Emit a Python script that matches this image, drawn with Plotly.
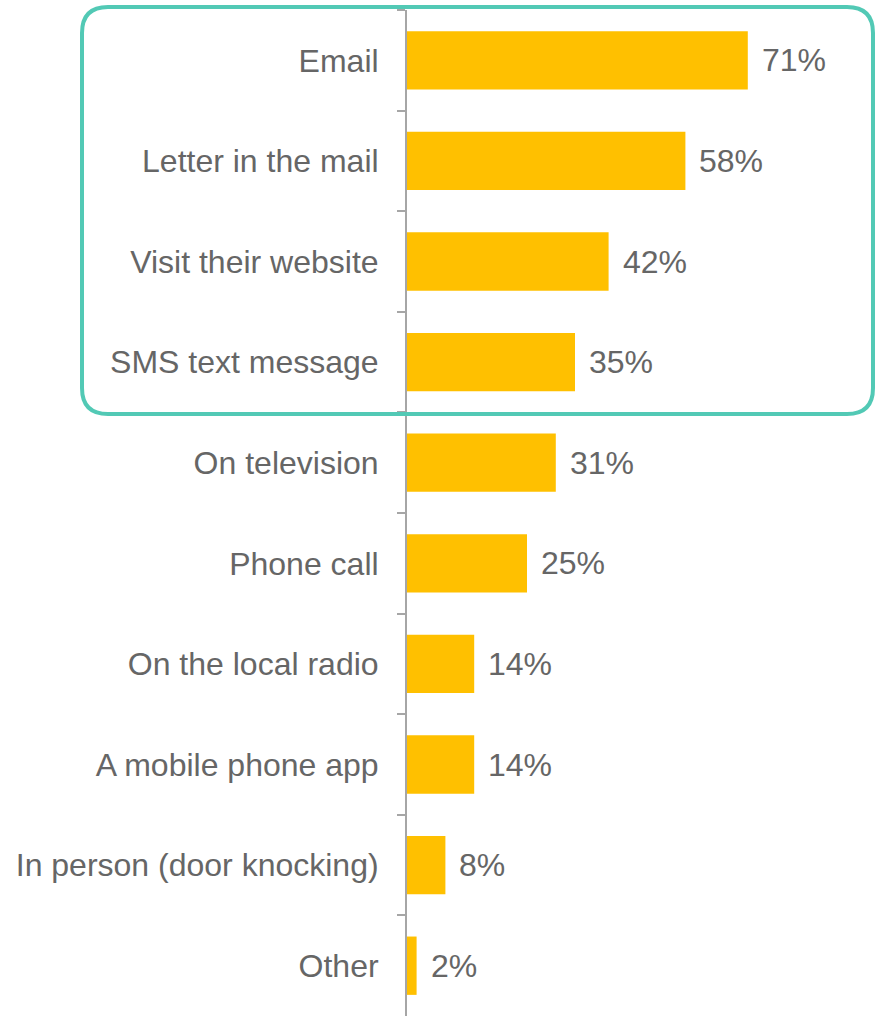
import plotly.graph_objects as go

# Survey: preferred ways to be contacted
channels = [
    "Email",
    "Letter in the mail",
    "Visit their website",
    "SMS text message",
    "On television",
    "Phone call",
    "On the local radio",
    "A mobile phone app",
    "In person (door knocking)",
    "Other",
]
shares = [71, 58, 42, 35, 31, 25, 14, 14, 8, 2]

BAR_COLOR = "#FFC000"
TEXT_COLOR = "#666666"
AXIS_COLOR = "#A6A6A6"
HIGHLIGHT = "#52C9B5"
FONT = "Liberation Sans, Arial, sans-serif"
FONT_SIZE = 32

W, H = 877, 1016
M_L, M_R, M_T, M_B = 407, 0, 10, 0
plot_w = W - M_L - M_R
plot_h = H - M_T - M_B
x_max = plot_w / 4.8  # 4.8 px per percentage point

fig = go.Figure(
    go.Bar(
        x=shares,
        y=channels,
        orientation="h",
        marker=dict(color=BAR_COLOR, line=dict(width=0)),
        hoverinfo="skip",
    )
)

# value labels just past the end of each bar
for ch, v in zip(channels, shares):
    fig.add_annotation(
        x=v, y=ch, text=f"{v}%", showarrow=False,
        xanchor="left", yanchor="middle", xshift=12,
        font=dict(family=FONT, size=FONT_SIZE, color=TEXT_COLOR),
    )

# rounded highlight frame around the top four channels
def px_to_paper_x(px):
    return (px - M_L) / plot_w

def px_to_paper_y(py):
    return (H - M_B - py) / plot_h

left, right, top, bottom = 82, 873, 7, 414
r = 26
xl, xr = px_to_paper_x(left), px_to_paper_x(right)
yt, yb = px_to_paper_y(top), px_to_paper_y(bottom)
rx, ry = r / plot_w, r / plot_h
path = (
    f"M {xl + rx},{yt} L {xr - rx},{yt} Q {xr},{yt} {xr},{yt - ry} "
    f"L {xr},{yb + ry} Q {xr},{yb} {xr - rx},{yb} "
    f"L {xl + rx},{yb} Q {xl},{yb} {xl},{yb + ry} "
    f"L {xl},{yt - ry} Q {xl},{yt} {xl + rx},{yt} Z"
)
fig.add_shape(type="path", path=path, xref="paper", yref="paper",
              line=dict(color=HIGHLIGHT, width=4), fillcolor="rgba(0,0,0,0)")

fig.update_layout(
    width=W, height=H,
    margin=dict(l=M_L, r=M_R, t=M_T, b=M_B, pad=0),
    paper_bgcolor="white", plot_bgcolor="white",
    bargap=0.42,
    showlegend=False,
    font=dict(family=FONT, size=FONT_SIZE, color=TEXT_COLOR),
    xaxis=dict(range=[0, x_max], visible=False, fixedrange=True),
    yaxis=dict(
        autorange="reversed",
        showline=True, linecolor=AXIS_COLOR, linewidth=2,
        ticks="outside", tickson="boundaries", ticklen=8,
        tickcolor=AXIS_COLOR, tickwidth=2,
        ticklabelstandoff=20,
        tickfont=dict(family=FONT, size=FONT_SIZE, color=TEXT_COLOR),
        showgrid=False, zeroline=False, fixedrange=True,
    ),
)

fig.write_html("out.html")
